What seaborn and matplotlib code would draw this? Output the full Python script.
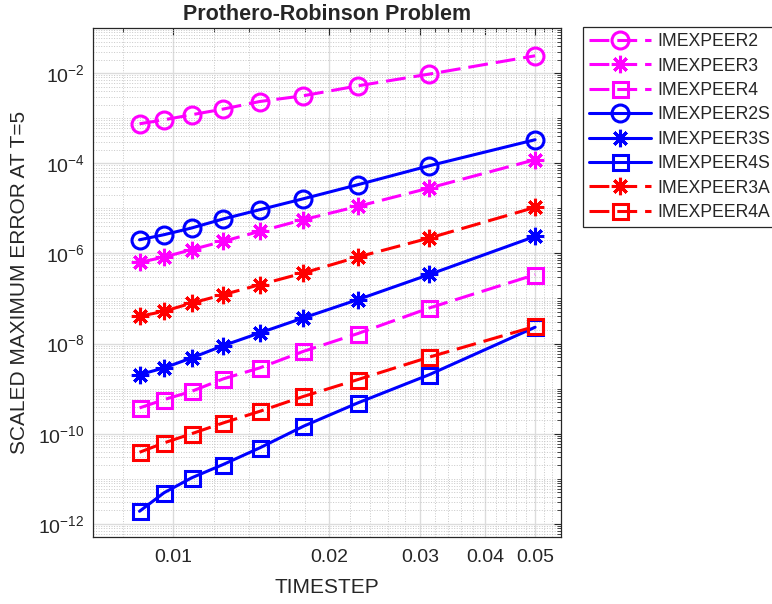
import numpy as np
import pandas as pd
import matplotlib
matplotlib.use("Agg")
import matplotlib.pyplot as plt
import seaborn as sns
from matplotlib.ticker import FixedLocator, NullFormatter, FuncFormatter

# ---------------- data ----------------
timestep = [0.05, 0.03125, 0.022727, 0.017857, 0.014706, 0.0125, 0.010870, 0.0096154, 0.0086207]

names = ["IMEXPEER2", "IMEXPEER3", "IMEXPEER4", "IMEXPEER2S", "IMEXPEER3S",
         "IMEXPEER4S", "IMEXPEER3A", "IMEXPEER4A"]

err_imexpeer2 = [2.42e-2, 9.5e-3, 5.2e-3, 3.14e-3, 2.34e-3, 1.59e-3, 1.19e-3, 9.2e-4, 7.5e-4]
err_imexpeer3 = [1.20e-4, 2.82e-5, 1.10e-5, 5.6e-6, 3.08e-6, 1.85e-6, 1.21e-6, 8.3e-7, 6.3e-7]
err_imexpeer4 = [3.37e-7, 6.15e-8, 1.66e-8, 6.7e-9, 2.88e-9, 1.64e-9, 8.7e-10, 5.7e-10, 3.73e-10]
err_imexpeer2s = [3.32e-4, 8.8e-5, 3.33e-5, 1.63e-5, 9.3e-6, 5.8e-6, 3.66e-6, 2.6e-6, 2.0e-6]
err_imexpeer3s = [2.38e-6, 3.4e-7, 9.4e-8, 3.70e-8, 1.72e-8, 8.97e-9, 4.8e-9, 2.88e-9, 2.04e-9]
err_imexpeer4s = [2.3e-8, 2.04e-9, 4.8e-10, 1.46e-10, 4.84e-11, 2.07e-11, 1.05e-11, 4.9e-12, 1.9e-12]
err_imexpeer3a = [1.05e-5, 2.19e-6, 8.3e-7, 3.67e-7, 2.02e-7, 1.21e-7, 7.9e-8, 5.2e-8, 4.0e-8]
err_imexpeer4a = [2.4e-8, 5.0e-9, 1.58e-9, 6.7e-10, 3.13e-10, 1.73e-10, 1.0e-10, 6.25e-11, 3.87e-11]

errors = [err_imexpeer2, err_imexpeer3, err_imexpeer4, err_imexpeer2s,
          err_imexpeer3s, err_imexpeer4s, err_imexpeer3a, err_imexpeer4a]

x_tick_values = [0.01, 0.02, 0.03, 0.04, 0.05]
y_tick_exponents = [-12, -10, -8, -6, -4, -2]

# ---------------- style ----------------
sns.set_style("white")
plt.rcParams["font.family"] = ["Liberation Sans", "DejaVu Sans"]
plt.rcParams["mathtext.fontset"] = "custom"
plt.rcParams["mathtext.rm"] = "Liberation Sans"
plt.rcParams["mathtext.it"] = "Liberation Sans:italic"
plt.rcParams["mathtext.bf"] = "Liberation Sans:bold"
plt.rcParams["mathtext.default"] = "regular"

MAG, BLUE, RED = "#ff00ff", "#0000ff", "#ff0000"
DASH = (0, (6.5, 2.6))
styles = {
    "IMEXPEER2":  dict(color=MAG,  marker="o",        ls=DASH, ms=12.2),
    "IMEXPEER3":  dict(color=MAG,  marker=(8, 2, 0),  ls=DASH, ms=12.5),
    "IMEXPEER4":  dict(color=MAG,  marker="s",        ls=DASH, ms=10.8),
    "IMEXPEER2S": dict(color=BLUE, marker="o",        ls="-",  ms=12.2),
    "IMEXPEER3S": dict(color=BLUE, marker=(8, 2, 0),  ls="-",  ms=12.5),
    "IMEXPEER4S": dict(color=BLUE, marker="s",        ls="-",  ms=10.8),
    "IMEXPEER3A": dict(color=RED,  marker=(8, 2, 0),  ls=DASH, ms=12.5),
    "IMEXPEER4A": dict(color=RED,  marker="s",        ls=DASH, ms=10.8),
}

fig = plt.figure(figsize=(7.72, 6.04), dpi=100)
ax = fig.add_axes([93 / 772, 1 - 537 / 604, (561 - 93) / 772, (537 - 28) / 604])

for name, err in zip(names, errors):
    df = pd.DataFrame({"TIMESTEP": timestep, "ERR": err})
    st = styles[name]
    sns.lineplot(data=df, x="TIMESTEP", y="ERR", ax=ax, color=st["color"],
                 marker=st["marker"], markersize=st["ms"], linestyle=st["ls"],
                 linewidth=2.2, markeredgewidth=2.2, markeredgecolor=st["color"],
                 markerfacecolor="none", errorbar=None, label=name, sort=True)

if ax.get_legend() is not None:
    ax.get_legend().remove()

ax.set_xscale("log")
ax.set_yscale("log")
ax.set_xlim(0.00701, 0.0561)
ax.set_ylim(5.1e-13, 1e-1)

# ticks
ax.xaxis.set_major_locator(FixedLocator(x_tick_values))
ax.xaxis.set_major_formatter(FuncFormatter(lambda v, p: "%g" % v))
xminor = [0.008] + [v for v in np.arange(0.012, 0.0561, 0.002)
                    if min(abs(v - t) for t in x_tick_values) > 1e-6]
ax.xaxis.set_minor_locator(FixedLocator(xminor))
ax.xaxis.set_minor_formatter(NullFormatter())

ax.yaxis.set_major_locator(FixedLocator([10.0 ** e for e in y_tick_exponents]))
ax.yaxis.set_major_formatter(FuncFormatter(lambda v, p: r"$10^{%d}$" % round(np.log10(v))))
yminor = [m * 10.0 ** e for e in range(-13, 0) for m in range(1, 10)]
ax.yaxis.set_minor_locator(FixedLocator(yminor))
ax.yaxis.set_minor_formatter(NullFormatter())

ax.tick_params(which="both", direction="in", top=True, right=True,
               color="#262626", labelcolor="#262626")
ax.tick_params(which="major", length=5, width=0.8, labelsize=14)
ax.tick_params(axis="x", which="major", pad=9)
ax.tick_params(axis="y", which="major", pad=6)
ax.tick_params(which="minor", length=3, width=0.6)

ax.grid(True, which="major", color="#dcdcdc", linestyle="-", linewidth=1.0)
ax.grid(True, which="minor", color="#c8c8c8", linestyle=":", linewidth=0.7)
ax.set_axisbelow(True)
for sp in ax.spines.values():
    sp.set_visible(True)
    sp.set_color("#262626")
    sp.set_linewidth(0.9)

ax.set_title("Prothero-Robinson Problem", fontsize=15.5, fontweight="bold", pad=6)
ax.set_xlabel("TIMESTEP", fontsize=15, labelpad=8, color="#262626")
ax.set_ylabel("SCALED MAXIMUM ERROR AT T=5", fontsize=15, color="#262626")

handles, labels = ax.get_legend_handles_labels()
leg = fig.legend(handles, labels, loc="upper left",
                 bbox_to_anchor=(583 / 772, 1 - 27 / 604), bbox_transform=fig.transFigure,
                 fontsize=12.7, frameon=True, fancybox=False, framealpha=1,
                 edgecolor="#262626", borderaxespad=0, handlelength=3.5,
                 handletextpad=0.35, labelspacing=0.42, borderpad=0.35)
leg.get_frame().set_linewidth(0.9)

fig.canvas.draw()
# place y label centre at x ~ 20 px
lab = ax.yaxis.label
bb = lab.get_window_extent()
cur_center = (bb.x0 + bb.x1) / 2
ax.yaxis.labelpad = ax.yaxis.labelpad + (cur_center - 20) * 72 / 100
fig.savefig("out.png", dpi=100)
